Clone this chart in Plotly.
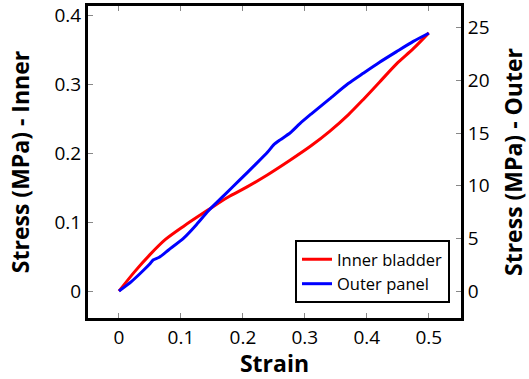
import plotly.graph_objects as go

# Inner bladder: strain vs stress (MPa), left axis
inner_strain = [0.0, 0.025, 0.05, 0.075, 0.104, 0.144, 0.175, 0.206, 0.24, 0.276,
                0.31, 0.34, 0.37, 0.394, 0.42, 0.448, 0.475, 0.5]
inner_stress = [0.0, 0.028, 0.053, 0.075, 0.094, 0.118, 0.136, 0.151, 0.169, 0.190,
                0.211, 0.232, 0.256, 0.278, 0.303, 0.330, 0.352, 0.375]

# Outer panel: strain vs stress (MPa), right axis
outer_strain = [0.0, 0.02, 0.04, 0.05, 0.055, 0.065, 0.08, 0.104, 0.125, 0.144, 0.17,
                0.195, 0.22, 0.24, 0.25, 0.26, 0.276, 0.292, 0.31, 0.34, 0.37, 0.394,
                0.42, 0.448, 0.475, 0.5]
outer_stress = [0.0, 0.9, 2.0, 2.6, 2.95, 3.2, 3.9, 5.0, 6.3, 7.6, 9.1,
                10.55, 12.0, 13.2, 13.9, 14.35, 15.0, 15.9, 16.8, 18.25, 19.7, 20.67,
                21.7, 22.73, 23.7, 24.47]

x_ticks = [0, 0.1, 0.2, 0.3, 0.4, 0.5]
x_ticklabels = ["0", "0.1", "0.2", "0.3", "0.4", "0.5"]
inner_ticks = [0, 0.1, 0.2, 0.3, 0.4]
inner_ticklabels = ["0", "0.1", "0.2", "0.3", "0.4"]
outer_ticks = [0, 5, 10, 15, 20, 25]
outer_ticklabels = ["0", "5", "10", "15", "20", "25"]

FONT = "Open Sans"

fig = go.Figure()
fig.add_trace(go.Scatter(x=inner_strain, y=inner_stress, mode="lines",
                         name="Inner bladder",
                         line=dict(color="#ff0000", width=3, shape="spline", smoothing=0.8),
                         yaxis="y"))
fig.add_trace(go.Scatter(x=outer_strain, y=outer_stress, mode="lines",
                         name="Outer panel",
                         line=dict(color="#0000ff", width=3, shape="spline", smoothing=0.6),
                         yaxis="y2"))

axis_common = dict(showgrid=False, zeroline=False, showline=True, linecolor="black",
                   linewidth=3, ticks="inside", ticklen=5, tickwidth=1, automargin=False,
                   tickcolor="#888888", tickfont=dict(family=FONT, size=19, color="black"))

title_font = dict(family=FONT, size=23, color="black")

fig.update_layout(
    width=529, height=379,
    margin=dict(l=88, r=68, t=6, b=61),
    paper_bgcolor="white", plot_bgcolor="white",
    font=dict(family=FONT, color="black"),
    xaxis=dict(range=[-0.05, 0.552], tickvals=x_ticks, ticktext=x_ticklabels,
               mirror="ticks",
               title=dict(text="<b>Strain</b>", font=title_font, standoff=6),
               **axis_common),
    yaxis=dict(range=[-0.039, 0.414], tickvals=inner_ticks, ticktext=inner_ticklabels,
               title=dict(text="<b>Stress (MPa) - Inner</b>", font=title_font, standoff=19),
               **axis_common),
    yaxis2=dict(range=[-2.56, 27.06], tickvals=outer_ticks, ticktext=outer_ticklabels,
                overlaying="y", side="right",
                title=dict(text="<b>Stress (MPa) - Outer</b>", font=title_font, standoff=22),
                **axis_common),
    legend=dict(x=0.9705, y=0.048, xanchor="right", yanchor="bottom",
                bgcolor="white", bordercolor="black", borderwidth=2,
                font=dict(family=FONT, size=16.5, color="black"),
                itemwidth=30, tracegroupgap=0),
    showlegend=True,
)

fig.write_html("out.html")
